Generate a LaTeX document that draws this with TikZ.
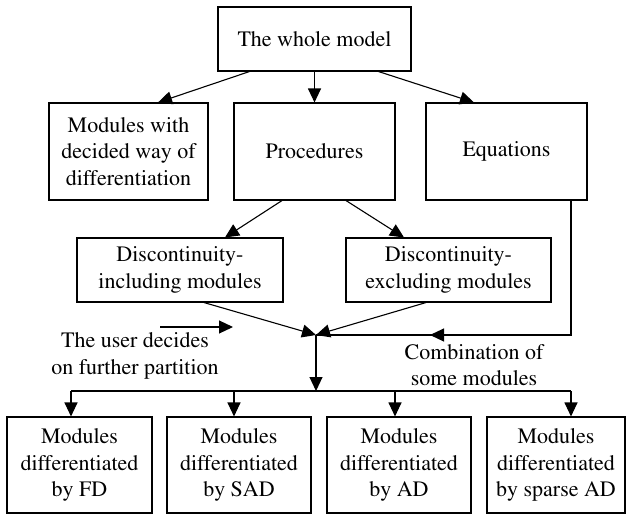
\documentclass[tikz,border=0pt]{standalone}
\usepackage[T1]{fontenc}
\usepackage{times}
\usetikzlibrary{arrows.meta,positioning,calc}
\tikzset{
block/.style = {draw, fill=white, rectangle, align=center, inner sep=0pt, font=\fontsize{22}{26.7}\selectfont},
tmp/.style  = {coordinate},
note/.style = {align=center, inner sep=0pt, font=\fontsize{22}{26.7}\selectfont}
}
\begin{document}
\begin{tikzpicture}[x=1pt, y=-1pt, line width=1.1pt, >={Triangle[length=14pt,width=13pt]}]
  \useasboundingbox (0,0) rectangle (627,514);
  \node [block, minimum width=193pt, minimum height=64pt]                               (whole) at (314.5,39) {The whole model};
  \node [block, minimum width=161pt, minimum height=97pt, below of=whole, node distance=112.5pt] (proc)  {Procedures};
  \node [block, minimum width=159pt, minimum height=97pt, left of=proc, node distance=186pt]     (mwd)   {Modules with\\decided way of\\differentiation};
  \node [block, minimum width=161pt, minimum height=97pt, right of=proc, node distance=192pt]    (eqs)   {Equations};
  \node [block, minimum width=206pt, minimum height=64pt]                               (incl)  at (180,270) {Discontinuity-\\including modules};
  \node [block, minimum width=205pt, minimum height=64pt, right of=incl, node distance=268.5pt]  (excl)  {Discontinuity-\\excluding modules};
  \node [tmp]                                                                           (junc)  at (316,335) {};
  \node [tmp]                                                                           (bus)   at (316,391) {};
  \node [block, minimum width=145pt, minimum height=96pt]                               (fd)    at (79.5,465) {Modules\\differentiated\\by FD};
  \node [block, minimum width=144pt, minimum height=96pt, right of=fd, node distance=159.5pt]   (sad)   {Modules\\differentiated\\by SAD};
  \node [block, minimum width=144pt, minimum height=96pt, right of=sad, node distance=160pt]   (ad)    {Modules\\differentiated\\by AD};
  \node [block, minimum width=138pt, minimum height=96pt, right of=ad, node distance=157pt]    (spad)  {Modules\\differentiated\\by sparse AD};
  \node [note]                                                                          (user)  at (135,356) {The user decides\\on further partition};
  \node [note]                                                                          (comb)  at (474,365) {Combination of\\some modules};
  \node [tmp]                                                                           (ua)    at (160,327) {};
  \node [tmp]                                                                           (ub)    at (233,327) {};
  \node [tmp]                                                                           (tmpe)  at (571,335) {};
  \node [tmp]                                                                           (tmpm)  at (430,335) {};
  \node [tmp]                                                                           (d1)    at (71,391) {};
  \node [tmp]                                                                           (d2)    at (234,391) {};
  \node [tmp]                                                                           (d3)    at (395,391) {};
  \node [tmp]                                                                           (d4)    at (571,391) {};

  \draw [->] ([xshift=32pt]whole.south west) -- ([xshift=29.5pt]mwd.north);
  \draw [->] (whole.south) -- (proc.north);
  \draw [->] ([xshift=-33pt]whole.south east) -- ([xshift=-32.5pt]eqs.north);
  \draw [->] ([xshift=-32.5pt]proc.south) -- ([xshift=45pt]incl.north);
  \draw [->] ([xshift=31.5pt]proc.south) -- ([xshift=-44.5pt]excl.north);
  \draw [->] ([xshift=24pt]incl.south) -- (junc);
  \draw [->] ([xshift=-22.5pt]excl.south) -- (junc);
  \draw (eqs.south -| tmpe) -- (tmpe) -- (junc);
  \draw [->] (tmpe) -- (tmpm);
  \draw [->] (ua) -- (ub);
  \draw [->] (junc) -- (bus);
  \draw (d1) -- (d4);
  \draw [->] (d1) -- (d1 |- fd.north);
  \draw [->] (d2) -- (d2 |- sad.north);
  \draw [->] (d3) -- (d3 |- ad.north);
  \draw [->] (d4) -- (d4 |- spad.north);
\end{tikzpicture}
\end{document}
